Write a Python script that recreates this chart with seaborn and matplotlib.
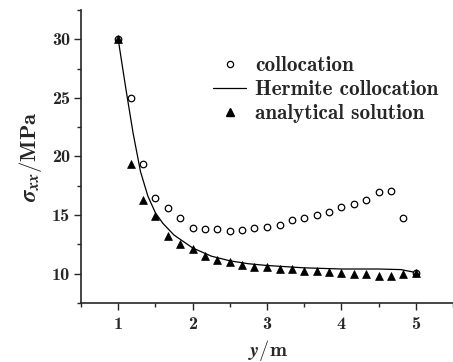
import numpy as np
import pandas as pd
import matplotlib
matplotlib.use("Agg")
import matplotlib.pyplot as plt
import seaborn as sns
from matplotlib.ticker import MultipleLocator
from matplotlib.lines import Line2D

# collocation (open circles)
coll_x = [1.0, 1.17, 1.33, 1.5, 1.67, 1.83, 2.0, 2.17, 2.33, 2.5, 2.67, 2.83, 3.0,
          3.17, 3.33, 3.5, 3.67, 3.83, 4.0, 4.17, 4.33, 4.5, 4.67, 4.83, 5.0]
coll_y = [30.0, 25.0, 19.4, 16.45, 15.6, 14.75, 13.9, 13.85, 13.8, 13.65, 13.7, 13.9, 14.0,
          14.15, 14.6, 14.75, 15.0, 15.3, 15.7, 15.95, 16.3, 17.0, 17.05, 14.75, 10.1]

# analytical solution (filled triangles)
ana_x = [1.0, 1.17, 1.33, 1.5, 1.67, 1.83, 2.0, 2.17, 2.33, 2.5, 2.67, 2.83, 3.0,
         3.17, 3.33, 3.5, 3.67, 3.83, 4.0, 4.17, 4.33, 4.5, 4.67, 4.83, 5.0]
ana_y = [30.0, 19.4, 16.3, 14.9, 13.2, 12.5, 12.1, 11.5, 11.2, 11.0, 10.75, 10.6, 10.55,
         10.4, 10.4, 10.25, 10.2, 10.15, 10.05, 10.0, 10.0, 9.8, 9.8, 9.95, 10.1]

# Hermite collocation (solid line)
herm_x = [1.0, 1.1, 1.2, 1.3, 1.4, 1.5, 1.6, 1.75, 2.0, 2.25, 2.5, 2.75, 3.0, 3.5, 4.0, 4.5, 4.8, 5.0]
herm_y = [30.0, 25.9, 22.0, 18.7, 16.6, 15.2, 14.3, 13.3, 12.2, 11.5, 11.1, 10.85, 10.7, 10.5, 10.4, 10.4, 10.35, 10.1]

labels = ["collocation", "Hermite collocation", "analytical solution"]

sns.set_style("ticks")
plt.rcParams["font.family"] = ["cmb10", "DejaVu Serif"]
plt.rcParams["mathtext.fontset"] = "cm"
plt.rcParams["axes.formatter.use_mathtext"] = False

W, H = 453, 362
fig = plt.figure(figsize=(W / 100, H / 100), dpi=100)
ax = fig.add_axes([81 / W, 1 - 303 / H, 1 - 81 / W, (303 - 10) / H])

df_h = pd.DataFrame({"x": herm_x, "y": herm_y})
df_c = pd.DataFrame({"x": coll_x, "y": coll_y})
df_a = pd.DataFrame({"x": ana_x, "y": ana_y})

sns.lineplot(data=df_h, x="x", y="y", ax=ax, color="black", linewidth=0.9, sort=True)
sns.scatterplot(data=df_c, x="x", y="y", ax=ax, marker="o", s=22, facecolor="white",
                edgecolor="black", linewidth=0.9, zorder=3)
sns.scatterplot(data=df_a, x="x", y="y", ax=ax, marker="^", s=32, color="black",
                edgecolor="black", linewidth=0.5, zorder=4)

ax.set_xlim(0.5, 5.5)
ax.set_ylim(7.5, 32.5)
ax.xaxis.set_major_locator(MultipleLocator(1))
ax.xaxis.set_minor_locator(MultipleLocator(0.5))
ax.yaxis.set_major_locator(MultipleLocator(5))
ax.yaxis.set_minor_locator(MultipleLocator(2.5))
ax.tick_params(axis="both", which="major", length=5, width=1, labelsize=13, direction="out")
ax.tick_params(axis="both", which="minor", length=3, width=1, direction="out")
ax.tick_params(axis="y", which="major", pad=3)
ax.tick_params(axis="x", which="major", pad=5)

for s in ["top", "right"]:
    ax.spines[s].set_visible(False)
for s in ["left", "bottom"]:
    ax.spines[s].set_linewidth(1.2)

xl = ax.set_xlabel(r"$\boldsymbol{y}/\mathbf{m}$", fontsize=13)
yl = ax.set_ylabel(r"$\boldsymbol{\sigma}_{\boldsymbol{xx}}/\mathbf{MPa}$", fontsize=13)

handles = [
    Line2D([], [], marker="o", linestyle="none", markerfacecolor="white",
           markeredgecolor="black", markersize=4.5, markeredgewidth=0.9),
    Line2D([], [], color="black", linewidth=0.9),
    Line2D([], [], marker="^", linestyle="none", color="black", markersize=5.5),
]

def make_legend(fs):
    px = fs * 100 / 72
    return fig.legend(handles, labels, loc="upper left",
                      bbox_to_anchor=(213 / W, 1 - 56 / H),
                      frameon=False, fontsize=fs, handlelength=33 / px,
                      handletextpad=9 / px, labelspacing=0.24, borderaxespad=0,
                      borderpad=0)

fs0 = 12
leg = make_legend(fs0)
fig.canvas.draw()
r = fig.canvas.get_renderer()
wmax = max(t.get_window_extent(r).width for t in leg.get_texts())
leg.remove()
fs = fs0 * 183 / wmax
leg = make_legend(fs)

# fit axis label sizes to the reference extents
fig.canvas.draw()
r = fig.canvas.get_renderer()
xw = xl.get_window_extent(r).width
yh = yl.get_window_extent(r).height
xl.set_fontsize(13 * 40 / xw)
yl.set_fontsize(13 * 91 / yh)

# baselines: x label baseline ~356 px, y label baseline ~37 px
xl.set_va("baseline")
yl.set_va("baseline")
ax.xaxis.set_label_coords((268 - 81) / 372, (303 - 356) / 293)
ax.yaxis.set_label_coords((36 - 81) / 372, (303 - 157) / 293)

fig.savefig("out.png", dpi=100)
